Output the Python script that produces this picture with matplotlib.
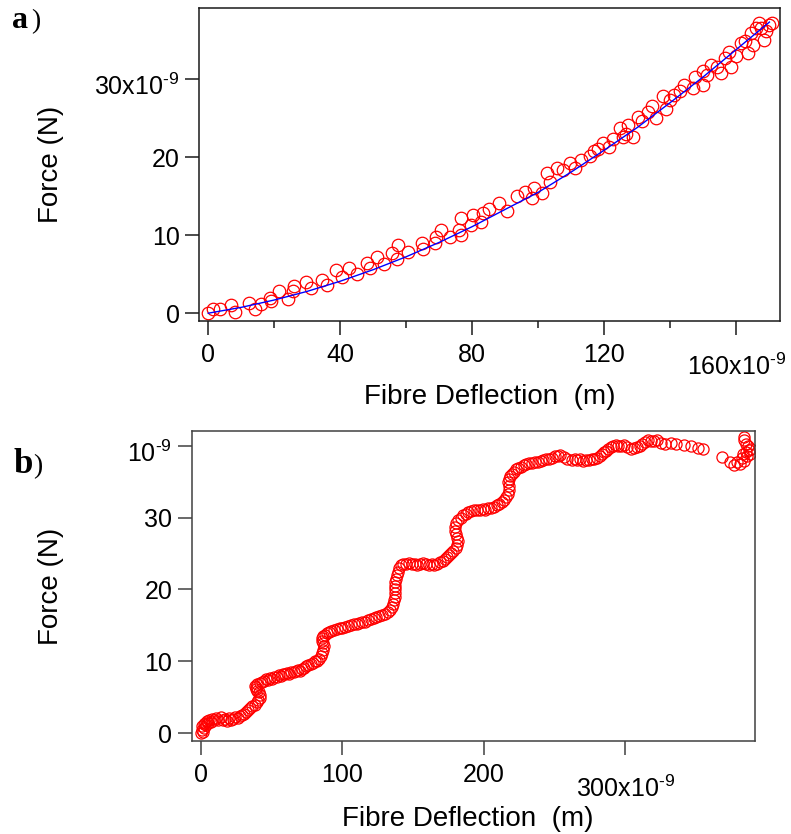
import matplotlib
matplotlib.use('Agg')
import matplotlib.pyplot as plt
from matplotlib.transforms import ScaledTranslation

# --- panel a: fibre deflection (x1e-9 m) vs force (x1e-9 N)
defl_a = [0.0, 1.5, 3.5, 7.0, 8.0, 12.4, 14.1, 16.1, 18.6, 19.1, 21.4, 24.1, 25.6, 26.1,
          29.6, 31.1, 34.6, 36.1, 38.6, 40.6, 42.6, 45.1, 48.1, 49.1, 51.1, 53.1, 55.6,
          57.1, 57.6, 60.6, 64.6, 65.1, 68.6, 69.1, 70.6, 73.1, 76.1, 76.6, 76.6, 79.6,
          80.1, 82.6, 83.1, 85.1, 88.1, 90.6, 93.6, 96.1, 98.1, 98.6, 101.1, 102.6, 103.6,
          105.6, 107.5, 109.5, 111.0, 113.0, 115.5, 117.0, 118.0, 119.5, 121.5, 122.5,
          124.6, 125.6, 126.5, 127.1, 128.6, 130.1, 131.5, 133.1, 134.5, 135.7, 137.7,
          138.7, 140.0, 141.2, 143.0, 144.2, 146.7, 147.5, 149.8, 149.8, 151.0, 152.3,
          154.0, 155.3, 156.5, 157.9, 158.4, 160.0, 161.4, 162.5, 163.4, 164.4, 165.0,
          165.9, 166.9, 167.5, 168.4, 168.9, 169.8, 170.9]
force_a = [0.0, 0.5, 0.6, 1.0, 0.2, 1.3, 0.5, 1.2, 1.9, 1.5, 2.8, 1.8, 2.8, 3.5,
           4.05, 3.2, 4.3, 3.6, 5.5, 4.7, 5.8, 5.0, 6.4, 5.8, 7.2, 6.3, 7.7,
           6.9, 8.7, 7.9, 9.0, 8.2, 9.05, 9.8, 10.7, 9.8, 10.7, 12.2, 10.0, 11.3,
           12.6, 11.7, 12.8, 13.4, 14.1, 13.1, 15.0, 15.5, 14.8, 16.0, 15.4, 18.0, 16.8,
           18.6, 18.3, 19.2, 18.6, 19.6, 20.2, 20.8, 21.1, 21.8, 21.3, 22.3,
           23.7, 22.6, 23.0, 24.1, 22.6, 25.2, 24.6, 25.8, 26.6, 25.0, 27.8,
           26.1, 27.3, 28.0, 28.5, 29.3, 28.8, 30.2, 31.0, 29.3, 30.5, 31.8,
           31.5, 30.8, 32.7, 33.5, 31.6, 33.0, 34.6, 34.9, 33.3, 35.9, 34.4,
           36.5, 37.2, 36.5, 35.0, 36.1, 36.9, 37.2]
fit_x = [0, 10, 20, 30, 40, 50, 60, 70, 80, 90, 100, 110, 120, 130, 140, 150, 160, 170]
fit_y = [0.0, 0.75, 1.69, 2.80, 4.10, 5.58, 7.24, 9.08, 11.10, 13.31, 15.5, 18.1,
         20.9, 23.8, 27.0, 30.3, 33.8, 37.3]

# --- panel b: stepwise force curve
defl_b = [0.0, 0.6, 1.0, 1.5, 2.0, 2.6, 3.2, 3.8, 4.5, 5.3, 6.0, 7.0, 8.0,
          9.5, 11, 12.5, 14, 15.5, 17, 18.5, 20, 21.5, 23, 24.5, 26, 27.5, 29, 30.5,
          32, 33.5, 35, 36.5, 38, 39.5, 40.7, 41.8, 42.0, 41.0, 39.8, 38.7, 38.2, 39.0, 40.0, 41.5, 43,
          44.5, 46, 47.5, 49, 50.5, 52, 53.5, 55, 56.5, 58, 59.5, 61, 62.5, 64, 65.5, 67, 68.5, 70, 71.5, 73, 74.5,
          76, 77.5, 79, 80.5, 82, 83.5, 84.8, 85.8, 86.6, 87.0, 86.5, 85.8, 85.5, 86.3, 87.5, 89, 90.5,
          92, 94, 96, 98, 100, 102, 104, 106, 108, 110, 112, 114, 116, 118, 120, 122, 124, 126, 128, 130, 132,
          133.5, 134.8, 135.8, 136.6, 137.0, 137.2, 136.9, 137.0, 137.5, 138.0, 138.6, 139.3, 140.3, 141.5, 143,
          145, 147, 149, 151, 153, 155, 157, 159, 161, 163, 165, 167, 169, 171,
          172.5, 174, 175.5, 177, 178.5, 180, 181.3, 181.8, 181.2, 180.3, 179.6, 179.8, 180.6, 182, 183.5, 185,
          187, 189, 191, 193, 195, 197, 199, 201, 203, 205, 207, 209, 211,
          212.5, 214, 215.5, 216.8, 217.6, 217.8, 217.3, 217.5, 218.5, 219.8, 221, 222.5, 224,
          226, 228, 230, 232, 234, 236, 238, 240, 242, 244, 246, 248, 250, 252, 254,
          256.5, 259, 262, 264, 266, 268, 270, 272, 274, 276, 278, 280,
          282, 283.5, 285, 286.5, 288, 289.5, 291, 293, 295,
          297, 299, 301, 304, 306, 308, 310, 312, 314, 316, 318, 320, 322, 325, 328, 332, 336, 341, 346, 351, 355,
          368, 374, 377, 379, 381, 382, 383, 384, 385, 386, 387, 388, 389, 384, 383.5, 385, 386.5]
force_b = [0.0, 0.4, 1.0, 0.2, 1.3, 0.8, 1.5, 1.1, 1.7, 1.4, 1.9, 1.6, 2.0,
           1.8, 2.1, 1.9, 2.2, 1.8, 2.0, 1.7, 2.1, 1.8, 2.0, 2.2, 2.1, 2.4, 2.5, 2.7,
           3.0, 3.3, 3.5, 3.8, 4.0, 4.3, 4.6, 4.9, 5.3, 5.7, 5.9, 6.2, 6.6, 6.4, 6.8, 7.0, 7.1,
           7.3, 7.5, 7.4, 7.7, 7.6, 7.9, 7.8, 8.1, 8.0, 8.3, 8.2, 8.4, 8.3, 8.5, 8.5, 8.6, 8.8, 8.7, 9.0, 9.1, 9.3,
           9.5, 9.7, 9.8, 10.0, 10.1, 10.4, 10.7, 11.1, 11.6, 12.1, 12.5, 12.9, 13.2, 13.5, 13.7, 13.9, 14.1,
           14.2, 14.3, 14.5, 14.6, 14.6, 14.8, 14.9, 15.0, 15.2, 15.2, 15.4, 15.5, 15.5, 15.8, 15.9, 16.0, 16.2, 16.3, 16.4, 16.6, 16.9,
           17.2, 17.6, 18.0, 18.5, 19.0, 19.5, 20.0, 20.5, 21.0, 21.5, 22.0, 22.5, 23.0, 23.4, 23.6,
           23.5, 23.7, 23.5, 23.6, 23.4, 23.6, 23.7, 23.5, 23.4, 23.6, 23.4, 23.6, 23.8, 24.0,
           24.2, 24.5, 24.8, 25.1, 25.4, 25.8, 26.2, 26.7, 27.2, 27.7, 28.2, 28.7, 29.2, 29.7, 30.0, 30.3,
           30.5, 30.8, 30.9, 31.0, 31.1, 31.0, 31.2, 31.1, 31.3, 31.3, 31.5, 31.7, 31.9,
           32.2, 32.5, 32.8, 33.3, 33.8, 34.4, 34.9, 35.4, 35.8, 36.1, 36.4, 36.7, 36.9,
           37.1, 37.3, 37.5, 37.6, 37.6, 37.8, 37.7, 37.9, 38.0, 38.1, 38.2, 38.3, 38.5, 38.6, 38.7,
           38.4, 38.2, 38.0, 38.1, 38.0, 38.1, 37.9, 38.0, 38.0, 38.1, 38.1, 38.3,
           38.5, 38.8, 39.1, 39.3, 39.6, 39.8, 40.0, 40.1, 40.0,
           39.9, 40.1, 39.8, 39.6, 39.7, 39.8, 40.0, 40.2, 40.5, 40.8, 40.7, 40.6, 40.8, 40.4, 40.3, 40.4, 40.3, 40.1, 40.0, 39.7, 39.6,
           38.4, 37.7, 37.3, 37.8, 37.4, 38.3, 38.8, 37.9, 39.1, 38.5, 39.4, 38.9, 39.6, 40.8, 41.2, 40.2, 39.9]

SUP = '$^{\u20109}$'  # superscript "-9" with a short hyphen
xt_a = [0, 40, 80, 120, 160]
xt_a_lbl = ['0', '40', '80', '120', '160x10' + SUP]
xt_a_minor = [20, 60, 100, 140]
yt_a = [0, 10, 20, 30]
yt_a_lbl = ['0', '10', '20', '30x10' + SUP]
xt_b = [0, 100, 200, 300]
xt_b_lbl = ['0', '100', '200', '300x10' + SUP]
yt_b = [0, 10, 20, 30, 40]
yt_b_lbl = ['0', '10', '20', '30', '10' + SUP]

plt.rcParams['font.family'] = ['Liberation Sans', 'DejaVu Sans']
plt.rcParams['mathtext.fontset'] = 'custom'
plt.rcParams['mathtext.rm'] = 'Liberation Sans'
plt.rcParams['mathtext.default'] = 'regular'

fig = plt.figure(figsize=(7.91, 8.34), dpi=100)


def style_axes(ax, spine_col):
    for s in ax.spines.values():
        s.set_color(spine_col)
        s.set_linewidth(1.1)
    ax.tick_params(which='major', length=10, width=1.1, color=spine_col, labelsize=18)
    ax.tick_params(which='minor', length=5, width=1.1, color=spine_col)
    ax.tick_params(axis='x', pad=6)
    ax.tick_params(axis='y', pad=4)


def shift(lbl, dy_px):
    lbl.set_transform(lbl.get_transform() + ScaledTranslation(0, dy_px / 100, fig.dpi_scale_trans))


# panel a
ax1 = fig.add_axes([0.2516, 0.6151, 0.7345, 0.3753])
ax1.plot(defl_a, force_a, 'o', mfc='none', mec='#ff0000', ms=9, mew=0.9)
ax1.plot(fit_x, fit_y, '-', color='#0000ff', lw=1.0)
ax1.set_xlim(-2.8, 173.2)
ax1.set_ylim(-1.0, 39.1)
ax1.set_xticks(xt_a)
ax1.set_xticklabels(xt_a_lbl)
ax1.set_xticks(xt_a_minor, minor=True)
ax1.set_yticks(yt_a)
ax1.set_yticklabels(yt_a_lbl)
style_axes(ax1, '#1a1a1a')
ax1.set_xlabel('Fibre Deflection  (m)', fontsize=20)
ax1.set_ylabel('Force (N)', fontsize=20)
ax1.xaxis.set_label_coords(0.5, -0.2)
ax1.yaxis.set_label_coords(-0.232, 0.5)
shift(ax1.get_xticklabels()[-1], -10)
shift(ax1.get_yticklabels()[-1], -5)

# panel b
ax2 = fig.add_axes([0.2424, 0.1115, 0.7121, 0.3717])
ax2.plot(defl_b, force_b, 'o', mfc='none', mec='#ff0000', ms=8, mew=0.9)
ax2.set_xlim(-6.4, 391.5)
ax2.set_ylim(-1.07, 42.04)
ax2.set_xticks(xt_b)
ax2.set_xticklabels(xt_b_lbl)
ax2.set_yticks(yt_b)
ax2.set_yticklabels(yt_b_lbl)
style_axes(ax2, '#404040')
ax2.set_xlabel('Fibre Deflection  (m)', fontsize=20)
ax2.set_ylabel('Force (N)', fontsize=20)
ax2.xaxis.set_label_coords(0.49, -0.21)
ax2.yaxis.set_label_coords(-0.227, 0.5)
shift(ax2.get_xticklabels()[-1], -12)
shift(ax2.get_yticklabels()[-1], -6)

# panel letters
fig.text(12 / 791, 1 - 28 / 834, 'a', fontsize=23, fontweight='bold', family='Liberation Serif')
fig.text(31 / 791, 1 - 28 / 834, ')', fontsize=20, family='Liberation Serif')
fig.text(14 / 791, 1 - 473 / 834, 'b', fontsize=25, fontweight='bold', family='Liberation Serif')
fig.text(33 / 791, 1 - 473 / 834, ')', fontsize=20, family='Liberation Serif')

fig.savefig('out.png', dpi=100)
